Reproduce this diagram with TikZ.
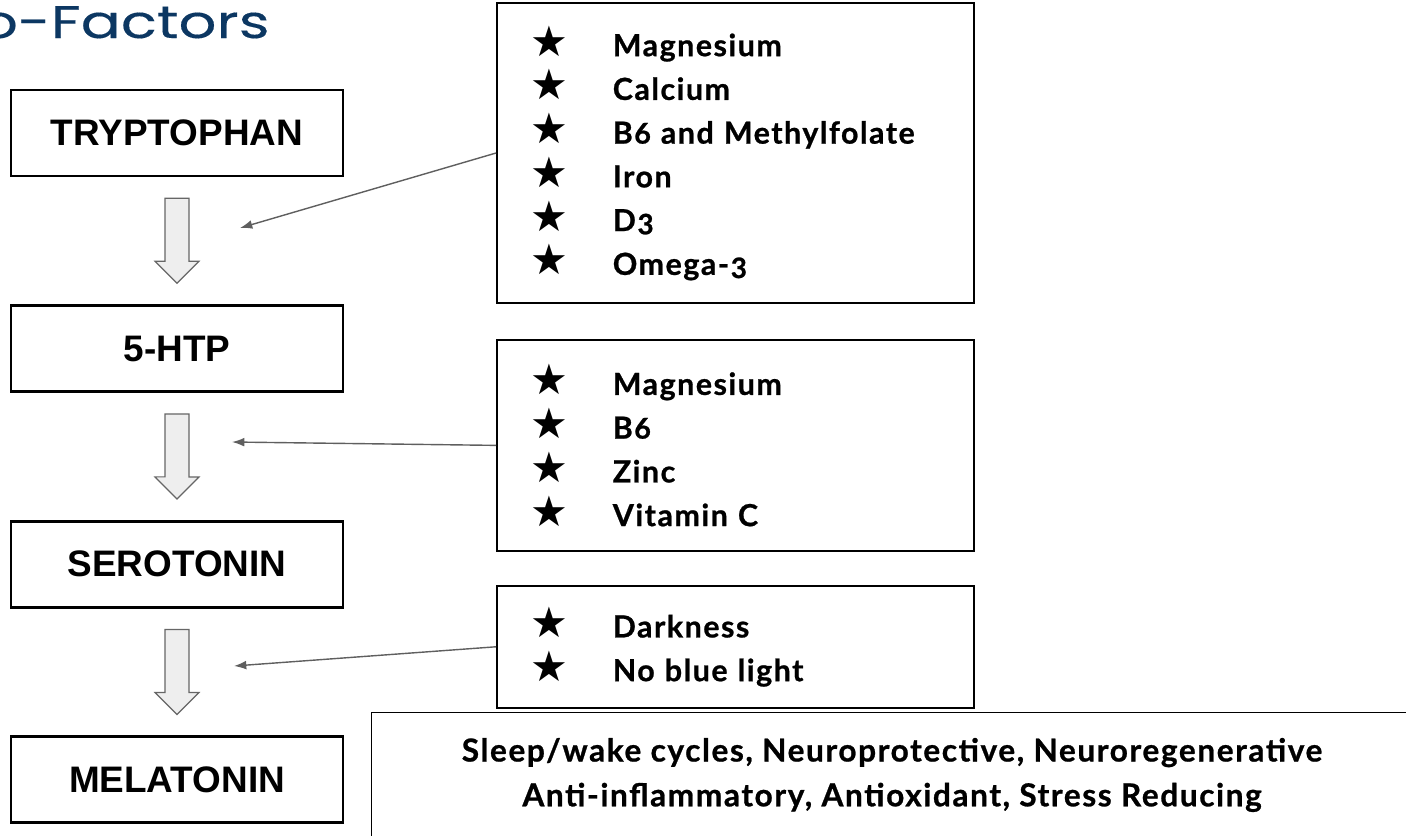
\documentclass[tikz,border=0pt]{standalone}
\usepackage{fontspec}
\setmainfont{Liberation Sans}
\newfontfamily\listfont[Numbers=OldStyle, LetterSpace=5, BoldFeatures={FakeBold=0.8}]{Lato}
\newfontfamily\titlefont[FakeStretch=1.3, FakeBold=0.3]{Poppins}
\newfontfamily\symfont{DejaVu Sans}
\usetikzlibrary{arrows.meta, positioning, calc}
\definecolor{navy}{RGB}{12,55,98}
\definecolor{linkgray}{RGB}{95,95,95}
\definecolor{shaftfill}{RGB}{238,238,238}
\newcommand{\st}{\makebox[45.4pt][l]{\hspace{-1.5pt}\symfont\fontsize{24}{24}\selectfont ★}}

\begin{document}
\begin{tikzpicture}[x=0.02cm, y=-0.02cm, node distance=2.54cm,
          stage/.style={draw, line width=1.5pt, minimum width=6.64cm, minimum height=1.72cm,
                    font=\fontsize{21}{21}\selectfont\bfseries},
          factors/.style={draw, line width=1.1pt, minimum width=9.54cm, text width=8.1cm,
                    inner xsep=0.72cm, align=left,
                    font=\listfont\bfseries\fontsize{17.3}{24.9}\selectfont},
          fatarrow/.style={draw=black!60, fill=shaftfill, line width=0.7pt},
          link/.style={-{Latex[length=7pt, width=5pt]}, draw=linkgray, line width=0.8pt}]
        \useasboundingbox (0,0) rectangle (1406,835);
        \node[anchor=base east, inner sep=0, text=navy,
              font=\titlefont\fontsize{26}{26}\selectfont] (title) at (270,38) {Co-Factors};
        % pathway
        \node[stage] (tryp) at (177,133) {TRYPTOPHAN};
        \node[stage, below=of tryp] (htp) {5-HTP};
        \node[stage, below=of htp] (sero) {SEROTONIN};
        \node[stage, below=of sero] (mela) {MELATONIN};
        \foreach \a/\b in {tryp/htp, htp/sero, sero/mela}
          \draw[fatarrow] ($(\a.south)+(-12,21)$) -- ++(24,0) -- ++(0,63) -- ++(10,0)
            -- ($(\b.north)+(0,-21)$) -- ++(-22,-22) -- ++(10,0) -- cycle;
        % co-factors
        \node[factors, minimum height=6cm] (cof1) at (735.5,153)
             {\st Magnesium\\ \st Calcium\\ \st B6 and Methylfolate\\
              \st Iron\\ \st D3\\ \st Omega-3};
        \node[factors, minimum height=4.22cm, below=0.7cm of cof1] (cof2)
             {\st Magnesium\\ \st B6\\ \st Zinc\\ \st Vitamin C};
        \node[factors, minimum height=2.44cm, below=0.66cm of cof2] (cof3)
             {\st Darkness\\ \st No blue light};
        \coordinate (tip1) at (240,228);
        \coordinate (tip2) at (232,442);
        \coordinate (tip3) at (234,666);
        \draw[link] (cof1.west) -- (tip1);
        \draw[link] (cof2.west) -- (tip2);
        \draw[link] (cof3.west) -- (tip3);
        % effects
        \node[draw, line width=0.8pt, anchor=north west, minimum width=21.8cm,
              minimum height=3cm] (eff) at (371,712) {};
        \node[align=center, font=\listfont\bfseries\fontsize{18}{25.5}\selectfont] (efftxt) at (892,775)
             {Sleep/wake cycles, Neuroprotective, Neuroregenerative\\
              Anti-inflammatory, Antioxidant, Stress Reducing};
\end{tikzpicture}
\end{document}
